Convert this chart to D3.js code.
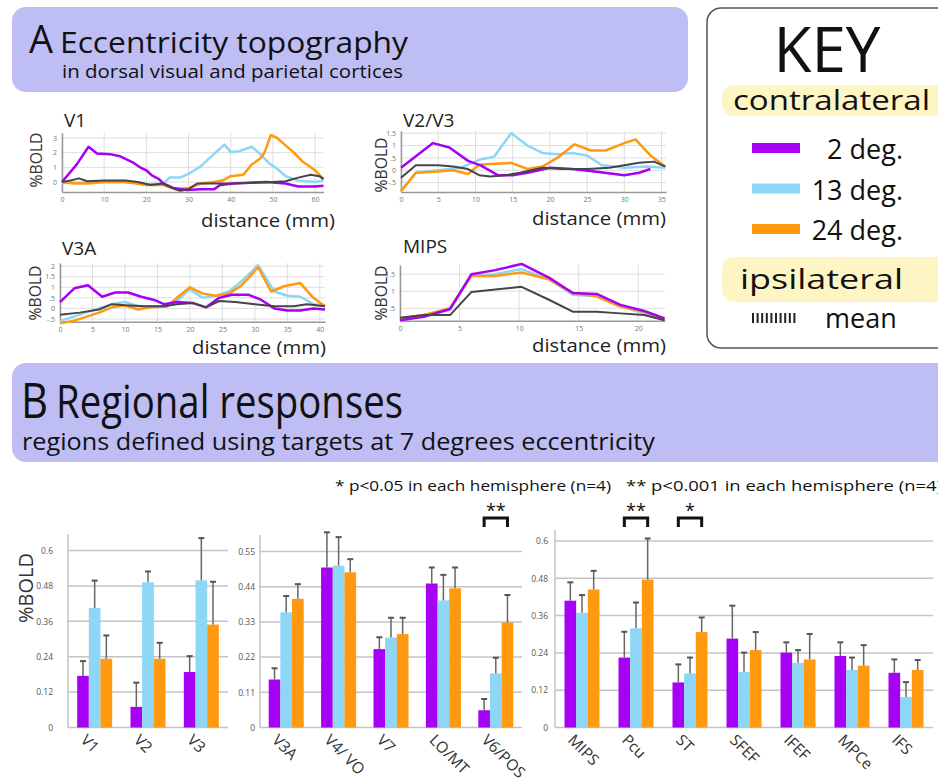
<!DOCTYPE html>
<html>
<head>
<meta charset="utf-8">
<script src="https://cdn.jsdelivr.net/npm/d3@7"></script>
<style>
  body { margin: 0; background: #fff; }
  svg { display: block; }
  text { font-family: "Open Sans", "Noto Sans", sans-serif; }
</style>
</head>
<body>
<svg id="fig" width="938" height="782"></svg>
<script>
// ---- panel A: eccentricity profiles, [distance mm, %BOLD] ----
const v1Deg2 = [[0,0],[3.5,1.2],[6.3,2.4],[8.3,1.95],[11.4,1.9],[13.8,1.75],[17,1.3],[18.5,1.0],[20,0.8],[21.3,0.45],[23,0.2],[24,-0.1],[26.4,-0.4],[29.6,-0.55],[32.8,-0.5],[36,-0.5],[37.5,-0.2],[40.6,-0.1],[48.5,0],[53,-0.1],[56,-0.3],[60,-0.3],[62,-0.25]]
const v1Deg13 = [[0,-0.05],[5,-0.05],[10,0],[15,0],[20,-0.15],[24,-0.1],[25.5,0.3],[28,0.3],[30,0.55],[33,1.1],[36,1.9],[38.5,2.55],[40,2.05],[42,2.1],[45,2.4],[47,1.9],[49,1.3],[51,0.9],[53,0.4],[56,0.1],[60,0.0],[62,0.1]]
const v1Deg24 = [[0,0],[3,-0.1],[6,-0.1],[10,0],[15,0],[20,-0.2],[24,-0.2],[27,-0.5],[30,-0.4],[33,-0.1],[36,0],[38,0.1],[40,0.4],[43,0.5],[45,1.2],[47,1.6],[48,2.0],[49.5,3.2],[51,3.0],[53,2.5],[55,2.0],[57,1.4],[60,0.8],[62,0.2]]
const v1Mean = [[0,0],[2,0.1],[4,0.25],[6,0.05],[10,0.1],[15,0.1],[18,0],[21,-0.2],[24,-0.1],[26,-0.4],[28,-0.6],[30,-0.5],[32,-0.1],[36,-0.1],[40,-0.1],[45,-0.05],[50,0],[53,0.05],[56,0.3],[59,0.5],[61,0.4],[62,0.2]]

const v23Deg2 = [[0,0.1],[4.3,1.1],[6.5,0.92],[9,0.38],[10.7,0.2],[13,-0.2],[15,-0.2],[17,-0.1],[20,0.1],[23,0.05],[26,-0.05],[30,-0.2],[32,-0.1],[33.5,0.05]]
const v23Deg13 = [[0,-0.85],[2,-0.1],[5,0],[8,0.1],[10.5,0.42],[12.5,0.55],[14.8,1.5],[17,1.0],[19,0.7],[21,0.65],[23,0.7],[25,0.6],[27,0.2],[30,0.1],[33,0.15],[35.5,0.1]]
const v23Deg24 = [[0,-0.85],[2,-0.1],[5,-0.05],[7,0],[9,-0.15],[10.5,0.22],[12,0.25],[14.8,0.3],[17,0.05],[19,0.15],[21,0.5],[23.3,1.05],[25.5,0.8],[27.5,0.8],[30,1.1],[31.5,1.25],[33.5,0.6],[35.5,0.15]]
const v23Mean = [[0,-0.3],[2,0.2],[5,0.2],[7,0.15],[9,0.05],[10.5,-0.2],[12,-0.25],[14,-0.2],[16,-0.1],[19,0.1],[22,0.05],[25,0.05],[28,0.1],[30,0.2],[32,0.3],[34,0.35],[35.5,0.15]]

const v3aDeg2 = [[0,0.3],[2.2,0.95],[4.3,1.1],[6.5,0.55],[8.5,0.75],[10.5,0.75],[12.5,0.55],[14.5,0.4],[16,0.2],[18,0.3],[20.5,0.25],[22.5,0.05],[24.5,0.5],[26.5,0.65],[29,0.65],[31,0.4],[33,0],[35,-0.1],[37,-0.1],[39,0],[40.8,-0.05]]
const v3aDeg13 = [[0,-0.6],[2,-0.4],[4,-0.2],[6,0],[8,0.2],[10,0.3],[12,0.1],[14,0.1],[16.5,0.1],[18,0.35],[20,0.9],[22,0.5],[24,0.6],[26,0.8],[28,1.3],[30.5,2.05],[33,0.8],[35,0.6],[37,0.55],[39,0.2],[40.8,0.15]]
const v3aDeg24 = [[0,-0.7],[2,-0.6],[4,-0.4],[6,-0.2],[8,0.05],[10,0.15],[12,-0.05],[14,0.05],[16.5,0.1],[18,0.5],[20,1.0],[22,0.7],[24,0.6],[26,0.7],[28,1.1],[30.5,1.95],[32.5,0.8],[34.5,1.05],[37,1.2],[39,0.5],[40.8,0.1]]
const v3aMean = [[0,-0.3],[3,-0.2],[6,-0.05],[8,0.2],[10,0.15],[13,0.1],[16,0.1],[18,0.2],[20.5,0.25],[22.5,0.05],[24.5,0.35],[27,0.3],[30,0.2],[33,0.1],[36,0.1],[38,0.2],[40.8,0.1]]

const mipsDeg2 = [[0,0.15],[2,0.25],[4.2,0.48],[6,1.5],[8,1.62],[10.2,1.8],[12.5,1.4],[14.5,0.95],[16.5,0.92],[18.5,0.6],[20.5,0.42],[22.2,0.2]]
const mipsDeg13 = [[0,0.2],[2,0.3],[4.2,0.45],[6,1.45],[8,1.5],[10.2,1.65],[12.5,1.35],[14.5,0.9],[16.5,0.85],[18.5,0.55],[20.5,0.35],[22.2,0.15]]
const mipsDeg24 = [[0,0.2],[2,0.3],[4.2,0.5],[6,1.45],[8,1.45],[10.2,1.55],[12.5,1.35],[14.5,0.95],[16.5,0.85],[18.5,0.55],[20.5,0.4],[22.2,0.2]]
const mipsMean = [[0,0.22],[2,0.3],[4.2,0.3],[6,0.98],[8,1.05],[10.2,1.13],[12.5,0.75],[14.5,0.4],[16.5,0.4],[18.5,0.35],[20.5,0.3],[22.2,0.15]]

// ---- panel B: regional responses ----
const regions1 = ["V1", "V2", "V3"]
const bold2deg1 = [0.175, 0.07, 0.188]
const bold13deg1 = [0.405, 0.492, 0.499]
const bold24deg1 = [0.233, 0.233, 0.349]
const err2deg1 = [0.05, 0.082, 0.054]
const err13deg1 = [0.093, 0.037, 0.143]
const err24deg1 = [0.079, 0.054, 0.145]

const regions2 = ["V3A", "V4/ VO", "V7", "LO/MT", "V6/POS"]
const bold2deg2 = [0.150, 0.500, 0.245, 0.450, 0.054]
const bold13deg2 = [0.360, 0.506, 0.281, 0.397, 0.169]
const bold24deg2 = [0.402, 0.485, 0.292, 0.435, 0.328]
const err2deg2 = [0.035, 0.110, 0.037, 0.050, 0.035]
const err13deg2 = [0.051, 0.089, 0.062, 0.080, 0.049]
const err24deg2 = [0.046, 0.041, 0.051, 0.065, 0.086]

const regions3 = ["MIPS", "Pcu", "ST", "SFEF", "IFEF", "MPCe", "IFS"]
const bold2deg3 = [0.408, 0.225, 0.145, 0.286, 0.241, 0.230, 0.176]
const bold13deg3 = [0.369, 0.319, 0.174, 0.179, 0.208, 0.185, 0.098]
const bold24deg3 = [0.444, 0.476, 0.307, 0.249, 0.219, 0.199, 0.185]
const err2deg3 = [0.059, 0.083, 0.058, 0.106, 0.033, 0.044, 0.043]
const err13deg3 = [0.057, 0.083, 0.051, 0.062, 0.041, 0.040, 0.048]
const err24deg3 = [0.060, 0.132, 0.047, 0.058, 0.082, 0.066, 0.032]

const ticks1 = [0, 0.12, 0.24, 0.36, 0.48, 0.6]
const ticks2 = [0, 0.11, 0.22, 0.33, 0.44, 0.55]
const ticks3 = [0, 0.12, 0.24, 0.36, 0.48, 0.6]

const conditions = ["2 deg.", "13 deg.", "24 deg."]

const purple = "#a600f5", cyan = "#8dd6f6", orange = "#ff9a10", meanCol = "#454545"
const svg = d3.select("#fig")

// header boxes
svg.append("rect").attr("x", 12).attr("y", 7).attr("width", 676).attr("height", 85)
    .attr("rx", 14).attr("fill", "#bebef5")
svg.append("rect").attr("x", 12).attr("y", 363).attr("width", 960).attr("height", 99)
    .attr("rx", 14).attr("fill", "#bebef5")

svg.append("text").attr("x", 29).attr("y", 53).attr("font-size", 38).attr("fill", "#111").text("A")
svg.append("text").attr("x", 60).attr("y", 53).attr("font-size", 30).attr("fill", "#111")
    .attr("textLength", 348).attr("lengthAdjust", "spacingAndGlyphs").text("Eccentricity topography")
svg.append("text").attr("x", 62).attr("y", 78).attr("font-size", 19).attr("fill", "#111")
    .attr("textLength", 341).attr("lengthAdjust", "spacingAndGlyphs").text("in dorsal visual and parietal cortices")

svg.append("text").attr("x", 21).attr("y", 418).attr("font-size", 50).attr("fill", "#111")
    .attr("textLength", 27).attr("lengthAdjust", "spacingAndGlyphs").text("B")
svg.append("text").attr("x", 56).attr("y", 418).attr("font-size", 46).attr("fill", "#111")
    .attr("textLength", 347).attr("lengthAdjust", "spacingAndGlyphs").text("Regional responses")
svg.append("text").attr("x", 22).attr("y", 450).attr("font-size", 24).attr("fill", "#111")
    .attr("textLength", 633).attr("lengthAdjust", "spacingAndGlyphs")
    .text("regions defined using targets at 7 degrees eccentricity")

// key box
const key = svg.append("g")
key.append("rect").attr("x", 707).attr("y", 8).attr("width", 260).attr("height", 340)
    .attr("rx", 14).attr("fill", "#fff").attr("stroke", "#555").attr("stroke-width", 1.5)
key.append("text").attr("x", 827).attr("y", 72).attr("text-anchor", "middle")
    .attr("font-size", 62).attr("fill", "#111").text("KEY")
key.append("rect").attr("x", 722).attr("y", 85).attr("width", 240).attr("height", 31)
    .attr("rx", 12).attr("fill", "#fdf6c4")
key.append("text").attr("x", 733).attr("y", 110).attr("font-size", 27).attr("fill", "#111")
    .attr("textLength", 197).attr("lengthAdjust", "spacingAndGlyphs").text("contralateral")
const swatchY = d3.scalePoint().domain(conditions).range([148, 229])
key.selectAll(".sw").data(conditions).join("rect")
    .attr("x", 752).attr("y", d => swatchY(d) - 5).attr("width", 48).attr("height", 10)
    .attr("fill", (d, i) => [purple, cyan, orange][i])
key.selectAll(".kt").data(conditions).join("text")
    .attr("x", 903).attr("y", d => swatchY(d) + 11).attr("text-anchor", "end")
    .attr("font-size", 27).attr("fill", "#111").text(d => d)
key.append("rect").attr("x", 722).attr("y", 257).attr("width", 240).attr("height", 45)
    .attr("rx", 12).attr("fill", "#fdf6c4")
key.append("text").attr("x", 740).attr("y", 289).attr("font-size", 27).attr("fill", "#111")
    .attr("textLength", 163).attr("lengthAdjust", "spacingAndGlyphs").text("ipsilateral")
key.append("line").attr("x1", 752).attr("x2", 797).attr("y1", 318).attr("y2", 318)
    .attr("stroke", "#222").attr("stroke-width", 10).attr("stroke-dasharray", "2,2.6")
key.append("text").attr("x", 825).attr("y", 328).attr("font-size", 27).attr("fill", "#111").text("mean")

// ---- line charts ----
function lineChart(cfg) {
    const x = d3.scaleLinear().domain(cfg.xDomain).range([cfg.left, cfg.right])
    const y = d3.scaleLinear().domain(cfg.yDomain).range([cfg.bottom, cfg.top])
    const g = svg.append("g")

    g.selectAll(".vg").data(cfg.xTicks).join("line")
        .attr("x1", d => x(d)).attr("x2", d => x(d))
        .attr("y1", cfg.top).attr("y2", cfg.bottom)
        .attr("stroke", "#dedede")
    g.selectAll(".hg").data(cfg.yTicks).join("line")
        .attr("x1", cfg.left).attr("x2", cfg.right)
        .attr("y1", d => y(d)).attr("y2", d => y(d))
        .attr("stroke", "#dedede")

    g.append("g").attr("transform", "translate(0," + cfg.bottom + ")")
        .call(d3.axisBottom(x).tickValues(cfg.xTicks).tickSize(0).tickPadding(5))
        .call(a => a.select(".domain").attr("stroke", "#999").attr("stroke-width", 1.5))
        .call(a => a.selectAll("text").attr("font-size", 7).attr("fill", "#777"))
    g.append("g").attr("transform", "translate(" + cfg.left + ",0)")
        .call(d3.axisLeft(y).tickValues(cfg.yTicks).tickFormat((d, i) => cfg.yLabels[i])
            .tickSize(0).tickPadding(5))
        .call(a => a.select(".domain").attr("stroke", "#999").attr("stroke-width", 1.5))
        .call(a => a.selectAll("text").attr("font-size", 7).attr("fill", "#777"))

    const line = d3.line().x(d => x(d[0])).y(d => y(d[1]))
    const series = [[cfg.deg13, cyan], [cfg.deg24, orange], [cfg.deg2, purple], [cfg.mean, meanCol]]
    series.forEach(s => {
        g.append("path").datum(s[0]).attr("d", line)
            .attr("fill", "none").attr("stroke", s[1])
            .attr("stroke-width", s[1] === meanCol ? 2 : 2.5)
            .attr("stroke-linejoin", "round")
    })

    g.append("text").attr("x", cfg.titleX).attr("y", cfg.titleY)
        .attr("font-size", 19).attr("fill", "#222").text(cfg.title)
    g.append("text").attr("transform", "translate(" + cfg.labelX + "," + cfg.labelY + ") rotate(-90)")
        .attr("text-anchor", "middle").attr("font-size", 17).attr("fill", "#333")
        .attr("textLength", 55).attr("lengthAdjust", "spacingAndGlyphs").text("%BOLD")
    g.append("text").attr("x", cfg.distX).attr("y", cfg.distY).attr("text-anchor", "end")
        .attr("font-size", 19).attr("fill", "#222")
        .attr("textLength", 134).attr("lengthAdjust", "spacingAndGlyphs").text("distance (mm)")
}

lineChart({
    left: 62, right: 323.5, top: 133, bottom: 192,
    xDomain: [0, 62], yDomain: [-0.68, 3.34],
    xTicks: [0, 10, 20, 30, 40, 50, 60], yTicks: [0, 1, 2, 3], yLabels: ["0", "1", "2", "3"],
    deg2: v1Deg2, deg13: v1Deg13, deg24: v1Deg24, mean: v1Mean,
    title: "V1", titleX: 64, titleY: 127, labelX: 42, labelY: 160, distX: 335, distY: 227
})
lineChart({
    left: 401, right: 666, top: 131, bottom: 192,
    xDomain: [0, 35.6], yDomain: [-0.88, 1.59],
    xTicks: [0, 5, 10, 15, 20, 25, 30, 35], yTicks: [-0.5, 0, 0.5, 1, 1.5],
    yLabels: ["-.5", "0", ".5", "1", "1.5"],
    deg2: v23Deg2, deg13: v23Deg13, deg24: v23Deg24, mean: v23Mean,
    title: "V2/V3", titleX: 403, titleY: 127, labelX: 387, labelY: 165, distX: 666, distY: 225
})
lineChart({
    left: 60, right: 325, top: 263, bottom: 321.7,
    xDomain: [0, 40.8], yDomain: [-0.63, 2.15],
    xTicks: [0, 5, 10, 15, 20, 25, 30, 35, 40], yTicks: [-0.5, 0, 0.5, 1, 1.5, 2],
    yLabels: ["-.5", "0", ".5", "1", "1.5", "2"],
    deg2: v3aDeg2, deg13: v3aDeg13, deg24: v3aDeg24, mean: v3aMean,
    title: "V3A", titleX: 62, titleY: 255, labelX: 41, labelY: 293, distX: 326, distY: 354
})
lineChart({
    left: 400, right: 665, top: 265, bottom: 320.7,
    xDomain: [0, 22.24], yDomain: [0.135, 1.77],
    xTicks: [0, 5, 10, 15, 20], yTicks: [0.5, 1, 1.5], yLabels: [".5", "1", "1.5"],
    deg2: mipsDeg2, deg13: mipsDeg13, deg24: mipsDeg24, mean: mipsMean,
    title: "MIPS", titleX: 403, titleY: 253, labelX: 387, labelY: 293, distX: 666, distY: 352
})

// ---- bar charts ----
svg.append("text").attr("x", 335).attr("y", 491).attr("font-size", 15).attr("fill", "#111")
    .attr("textLength", 276).attr("lengthAdjust", "spacingAndGlyphs")
    .text("*  p<0.05 in each hemisphere (n=4)")
svg.append("text").attr("x", 626).attr("y", 491).attr("font-size", 15).attr("fill", "#111")
    .attr("textLength", 316).attr("lengthAdjust", "spacingAndGlyphs")
    .text("**  p<0.001 in each hemisphere (n=4)")

function barChart(cfg) {
    const x = d3.scalePoint().domain(cfg.regions).range([cfg.left, cfg.right]).padding(0.5)
    const sub = d3.scaleBand().domain(conditions).range([-17.5, 17.5])
    const y = d3.scaleLinear().domain([0, cfg.max]).range([727.5, cfg.maxY])
    const g = svg.append("g")

    g.selectAll(".grid").data(cfg.ticks).join("line")
        .attr("x1", cfg.left).attr("x2", cfg.right)
        .attr("y1", d => y(d)).attr("y2", d => y(d))
        .attr("stroke", "#c4c4c4").attr("stroke-width", 1.5)
    g.append("line").attr("x1", cfg.left).attr("x2", cfg.left)
        .attr("y1", cfg.axisTop).attr("y2", y(0))
        .attr("stroke", "#c4c4c4").attr("stroke-width", 1.5)
    g.append("g").attr("transform", "translate(" + (cfg.left - cfg.labelGap) + ",0)")
        .call(d3.axisLeft(y).tickValues(cfg.ticks).tickFormat(d => d === 0 ? "0" : d3.format(".2~f")(d))
            .tickSize(0).tickPadding(0))
        .call(a => a.select(".domain").remove())
        .call(a => a.selectAll("text").attr("font-size", 8.5).attr("fill", "#555"))

    const sets = [[cfg.deg2, cfg.err2, purple], [cfg.deg13, cfg.err13, cyan], [cfg.deg24, cfg.err24, orange]]
    sets.forEach((s, k) => {
        const c = conditions[k]
        g.selectAll(".bar" + k).data(cfg.regions).join("rect")
            .attr("x", d => x(d) + sub(c)).attr("width", sub.bandwidth())
            .attr("y", (d, i) => y(s[0][i])).attr("height", (d, i) => y(0) - y(s[0][i]))
            .attr("fill", s[2])
        const cx = d => x(d) + sub(c) + sub.bandwidth() / 2
        g.selectAll(".err" + k).data(cfg.regions).join("line")
            .attr("x1", cx).attr("x2", cx)
            .attr("y1", (d, i) => y(s[0][i])).attr("y2", (d, i) => y(s[0][i] + s[1][i]))
            .attr("stroke", "#666").attr("stroke-width", 1.5)
        g.selectAll(".cap" + k).data(cfg.regions).join("line")
            .attr("x1", d => cx(d) - 3).attr("x2", d => cx(d) + 3)
            .attr("y1", (d, i) => y(s[0][i] + s[1][i])).attr("y2", (d, i) => y(s[0][i] + s[1][i]))
            .attr("stroke", "#555").attr("stroke-width", 2)
    })

    g.selectAll(".xl").data(cfg.regions).join("text")
        .attr("transform", d => "translate(" + (x(d) - 15) + ",741) rotate(45)")
        .attr("font-family", "'Liberation Serif', 'DejaVu Serif', serif")
        .attr("font-size", 15.5).attr("fill", "#333").text(d => d)

    cfg.sig.forEach(sg => {
        const x1 = x(sg[0]) + sub(conditions[0]) + sub.bandwidth() / 2
        const x2 = x(sg[0]) + sub(conditions[2]) + sub.bandwidth() / 2
        g.append("path")
            .attr("d", "M" + x1 + ",527V518H" + x2 + "V527")
            .attr("fill", "none").attr("stroke", "#111").attr("stroke-width", 3)
        g.append("text").attr("x", (x1 + x2) / 2).attr("y", 517).attr("text-anchor", "middle")
            .attr("font-size", 18).attr("fill", "#111").text(sg[1])
    })
}

barChart({
    regions: regions1, left: 68, right: 228, max: 0.6, maxY: 550.5, axisTop: 534, ticks: ticks1, labelGap: 15,
    deg2: bold2deg1, deg13: bold13deg1, deg24: bold24deg1, err2: err2deg1, err13: err13deg1, err24: err24deg1,
    sig: []
})
barChart({
    regions: regions2, left: 260, right: 522, max: 0.55, maxY: 551.5, axisTop: 535, ticks: ticks2, labelGap: 5,
    deg2: bold2deg2, deg13: bold13deg2, deg24: bold24deg2, err2: err2deg2, err13: err13deg2, err24: err24deg2,
    sig: [["V6/POS", "**"]]
})
barChart({
    regions: regions3, left: 555, right: 933, max: 0.6, maxY: 541, axisTop: 530, ticks: ticks3, labelGap: 7,
    deg2: bold2deg3, deg13: bold13deg3, deg24: bold24deg3, err2: err2deg3, err13: err13deg3, err24: err24deg3,
    sig: [["Pcu", "**"], ["ST", "*"]]
})

svg.append("text").attr("transform", "translate(33,588) rotate(-90)").attr("text-anchor", "middle")
    .attr("font-size", 20).attr("fill", "#333").text("%BOLD")
</script>
</body>
</html>
